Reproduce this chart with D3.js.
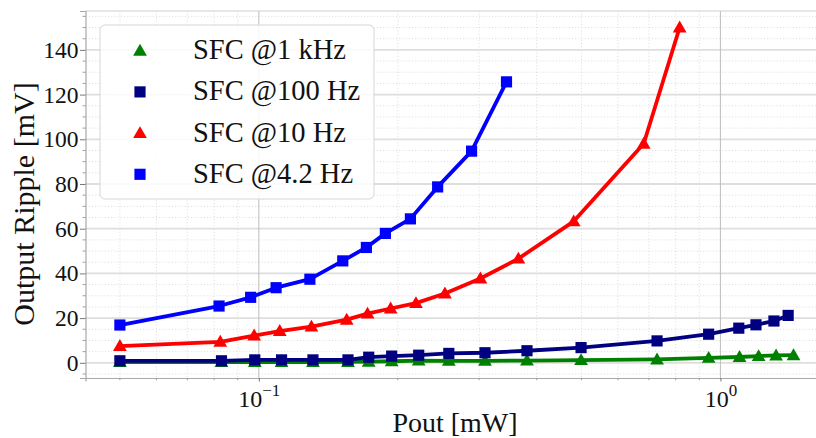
<!DOCTYPE html>
<html>
<head>
<meta charset="utf-8">
<script src="https://cdn.jsdelivr.net/npm/d3@7"></script>
<style>
  body { margin: 0; background: #fff; }
  svg, svg text { font-family: "Liberation Serif", "Times New Roman", serif; }
</style>
</head>
<body>
<div id="chart"></div>
<script>
// Data (Pout in mW, ripple in mV)
const khz1X = [0.05, 0.083, 0.098, 0.112, 0.131, 0.156, 0.173, 0.194, 0.222, 0.258, 0.309, 0.381, 0.499, 0.729, 0.943, 1.10, 1.21, 1.32, 1.44];
const khz1Y = [0.3, 0.3, 0.3, 0.3, 0.3, 0.4, 0.5, 0.7, 1.0, 0.9, 0.9, 1.0, 1.2, 1.5, 2.2, 2.6, 3.0, 3.3, 3.4];

const hz100X = [0.05, 0.083, 0.098, 0.112, 0.131, 0.156, 0.173, 0.194, 0.222, 0.258, 0.309, 0.381, 0.499, 0.729, 0.943, 1.096, 1.194, 1.306, 1.402];
const hz100Y = [0.9, 0.9, 1.3, 1.3, 1.3, 1.3, 2.5, 3.0, 3.4, 4.2, 4.5, 5.4, 6.8, 9.8, 12.8, 15.5, 17.0, 18.7, 21.2];

const hz10X = [0.05, 0.0825, 0.0977, 0.111, 0.130, 0.155, 0.172, 0.193, 0.219, 0.253, 0.302, 0.365, 0.481, 0.682, 0.816];
const hz10Y = [7.5, 9.4, 12.2, 14.2, 16.2, 19.3, 22.0, 24.3, 26.7, 31.0, 37.7, 46.6, 63.3, 98.0, 150.0];

const hz42X = [0.05, 0.082, 0.096, 0.109, 0.129, 0.152, 0.171, 0.188, 0.213, 0.244, 0.289, 0.344];
const hz42Y = [16.9, 25.4, 29.3, 33.6, 37.4, 45.6, 51.6, 57.9, 64.4, 78.7, 94.7, 125.7];

const seriesNames = ["SFC @1 kHz", "SFC @100 Hz", "SFC @10 Hz", "SFC @4.2 Hz"];
const yTicks = [0, 20, 40, 60, 80, 100, 120, 140];
const xTicks = [0.1, 1];
const xTickExp = ["\u22121", "0"];

const series = [
    { name: seriesNames[0], xs: khz1X, ys: khz1Y, color: "#008000", marker: "triangle" },
    { name: seriesNames[1], xs: hz100X, ys: hz100Y, color: "#000080", marker: "square" },
    { name: seriesNames[2], xs: hz10X, ys: hz10Y, color: "#ff0000", marker: "triangle" },
    { name: seriesNames[3], xs: hz42X, ys: hz42Y, color: "#0000ff", marker: "square" }
];

const width = 816, height = 438;
const mLeft = 85.5, mTop = 11, mBottom = 378, mRight = 842;
const serif = "\"Liberation Serif\", \"Times New Roman\", serif";

const svg = d3.select("#chart").append("svg")
    .attr("width", width)
    .attr("height", height)
    .attr("font-family", serif);

const x = d3.scaleLog().domain([0.04212, 1.834]).range([mLeft, mRight]);
const y = d3.scaleLinear().domain([-6.8, 157.4]).range([mBottom, mTop]);

// minor grid
const xMinor = [];
[0.01, 0.1, 1].forEach(b => {
    for (let k = 2; k <= 9; k++) {
        const v = b * k;
        if (v > x.domain()[0] && v < x.domain()[1]) xMinor.push(v);
    }
});
const yMinor = d3.range(-5, 157, 5).filter(v => v % 20 !== 0);

const grid = svg.append("g");
grid.selectAll(".xm").data(xMinor).enter().append("line")
    .attr("x1", d => x(d)).attr("x2", d => x(d))
    .attr("y1", mTop).attr("y2", mBottom)
    .attr("stroke", "#d8d8d8").attr("stroke-width", 0.8).attr("stroke-dasharray", "1.2,2");
grid.selectAll(".ym").data(yMinor).enter().append("line")
    .attr("x1", mLeft).attr("x2", mRight)
    .attr("y1", d => y(d)).attr("y2", d => y(d))
    .attr("stroke", "#d8d8d8").attr("stroke-width", 0.8).attr("stroke-dasharray", "1.2,2");
grid.selectAll(".yM").data(yTicks).enter().append("line")
    .attr("x1", mLeft).attr("x2", mRight)
    .attr("y1", d => y(d)).attr("y2", d => y(d))
    .attr("stroke", "#dedede").attr("stroke-width", 1.8);
grid.selectAll(".xM").data(xTicks).enter().append("line")
    .attr("x1", d => x(d)).attr("x2", d => x(d))
    .attr("y1", mTop).attr("y2", mBottom)
    .attr("stroke", "#bdbdbd").attr("stroke-width", 1);

// top spine
svg.append("line")
    .attr("x1", mLeft).attr("x2", mRight).attr("y1", mTop).attr("y2", mTop)
    .attr("stroke", "#d0d0d0").attr("stroke-width", 1.2);

// axes
const yAxis = svg.append("g")
    .attr("transform", `translate(${mLeft},0)`)
    .call(d3.axisLeft(y).tickValues(yTicks).tickSize(5.5).tickPadding(1.5));
const xAxis = svg.append("g")
    .attr("transform", `translate(0,${mBottom})`)
    .call(d3.axisBottom(x).tickValues(xTicks).tickSize(3.5).tickPadding(8).tickFormat(() => "10"));

[yAxis, xAxis].forEach(g => {
    g.attr("font-family", serif).attr("font-size", 23);
    g.select(".domain").attr("stroke", "#a8a8a8").attr("stroke-width", 1.2);
    g.selectAll(".tick line").attr("stroke", "#777");
    g.selectAll(".tick text")
        .attr("fill", "#111")
        .style("font-family", serif)
        .style("font-size", "23.5px");
});
xAxis.selectAll(".tick text").style("font-size", "24px")
    .append("tspan")
    .attr("dy", "-0.6em")
    .style("font-size", "17px")
    .text((d, i) => xTickExp[i]);

// minor ticks
svg.append("g").selectAll("line").data(yMinor).enter().append("line")
    .attr("x1", mLeft - 3).attr("x2", mLeft)
    .attr("y1", d => y(d)).attr("y2", d => y(d))
    .attr("stroke", "#888").attr("stroke-width", 0.8);
svg.append("g").selectAll("line").data(xMinor).enter().append("line")
    .attr("x1", d => x(d)).attr("x2", d => x(d))
    .attr("y1", mBottom).attr("y2", mBottom + 2.2)
    .attr("stroke", "#888").attr("stroke-width", 0.8);

// axis labels
svg.append("text")
    .attr("x", 455).attr("y", 432)
    .attr("text-anchor", "middle")
    .style("font-size", "28px").attr("fill", "#111")
    .text("Pout [mW]");
svg.append("text")
    .attr("transform", "translate(34,204) rotate(-90)")
    .attr("text-anchor", "middle")
    .style("font-size", "30px").attr("fill", "#111")
    .text("Output Ripple [mV]");

function markerPath(type) {
    return type === "square"
        ? d3.symbol().type(d3.symbolSquare).size(125)()
        : d3.symbol().type(d3.symbolTriangle).size(82)();
}

// series
const line = d3.line().x(d => x(d[0])).y(d => y(d[1]));
const plot = svg.append("g");
series.forEach(s => {
    const pts = s.xs.map((v, i) => [v, s.ys[i]]);
    const g = plot.append("g");
    g.append("path")
        .attr("d", line(pts))
        .attr("fill", "none")
        .attr("stroke", s.color)
        .attr("stroke-width", 3.8)
        .attr("stroke-linejoin", "round");
    g.selectAll("path.m").data(pts).enter().append("path")
        .attr("class", "m")
        .attr("d", markerPath(s.marker))
        .attr("transform", d => `translate(${x(d[0])},${y(d[1]) + (s.marker === "triangle" ? 1 : 0)})`)
        .attr("fill", s.color);
});

// legend
const legend = svg.append("g");
legend.append("rect")
    .attr("x", 100).attr("y", 25).attr("width", 274).attr("height", 174)
    .attr("rx", 5).attr("ry", 5)
    .attr("fill", "#fff").attr("fill-opacity", 0.85)
    .attr("stroke", "#d6d6d6").attr("stroke-width", 1);
series.forEach((s, i) => {
    const cy = 50.7 + i * 41.2;
    legend.append("path")
        .attr("d", markerPath(s.marker))
        .attr("transform", `translate(140,${cy + (s.marker === "triangle" ? 1 : 0)})`)
        .attr("fill", s.color);
    legend.append("text")
        .attr("x", 193).attr("y", cy + 8.5)
        .style("font-size", "28.5px").attr("fill", "#111")
        .text(s.name);
});
</script>
</body>
</html>
